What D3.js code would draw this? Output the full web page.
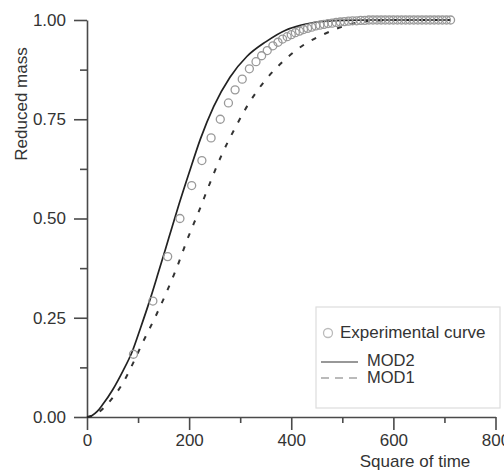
<!DOCTYPE html>
<html>
<head>
<meta charset="utf-8">
<script src="https://cdn.jsdelivr.net/npm/d3@7"></script>
<style>
    body { margin: 0; background: #fff; }
    svg { display: block; font-family: 'Liberation Sans', Arial, sans-serif; }
</style>
</head>
<body>
<script>
// experimental points (square of time, reduced mass)
const expX = [91, 129, 158, 182, 205, 225, 243, 261, 277, 290, 304, 318, 331, 342, 353, 364, 374, 383, 392,
    400, 408, 416, 424, 432, 440, 448, 456, 464, 472, 480, 488, 496, 504, 512, 520, 528, 536, 544,
    552, 560, 568, 576, 584, 592, 600, 608, 616, 624, 632, 640, 648, 656, 664, 672, 680, 688, 696, 704, 712]
const expY = [0.158, 0.292, 0.404, 0.50, 0.583, 0.646, 0.703, 0.75, 0.791, 0.824, 0.851, 0.877, 0.895, 0.910, 0.923, 0.935, 0.944, 0.952, 0.958,
    0.963, 0.968, 0.972, 0.976, 0.979, 0.982, 0.985, 0.987, 0.989, 0.991, 0.992, 0.994, 0.995, 0.996, 0.997, 0.998, 0.998, 0.999, 0.999,
    1, 1, 1, 1, 1, 1, 1, 1, 1, 1, 1, 1, 1, 1, 1, 1, 1, 1, 1, 1, 1]

// MOD2 (solid)
const mod2X = [0, 10, 20, 30, 50, 70, 88, 105, 122, 140, 160, 180, 200, 222, 248, 280, 313, 350, 390, 420, 450, 500, 550, 712]
const mod2Y = [0, 0.004, 0.014, 0.03, 0.068, 0.115, 0.163, 0.225, 0.29, 0.365, 0.45, 0.535, 0.615, 0.7, 0.782, 0.856, 0.908, 0.945, 0.975, 0.987, 0.995, 0.999, 1, 1]

// MOD1 (dashed)
const mod1X = [0, 15, 32, 50, 71, 90, 110, 133, 155, 177, 197, 220, 241, 264, 290, 316, 349, 385, 424, 467, 509, 548, 600, 712]
const mod1Y = [0, 0.005, 0.022, 0.048, 0.087, 0.135, 0.19, 0.25, 0.312, 0.38, 0.449, 0.521, 0.59, 0.661, 0.728, 0.788, 0.848, 0.897, 0.937, 0.966, 0.987, 0.997, 1, 1]

const xTicks = [0, 200, 400, 600, 800]
const xMinor = [100, 300, 500, 700]
const yTicks = [0, 0.25, 0.5, 0.75, 1]
const yMinor = [0.125, 0.375, 0.625, 0.875]
const legendLabels = ['Experimental curve', 'MOD2', 'MOD1']

const width = 504
const height = 472
const axisColor = '#4a4a4a'
const textColor = '#333'

const svg = d3.select('body')
    .append('svg')
    .attr('width', width)
    .attr('height', height)

const xScale = d3.scaleLinear().domain([0, 800]).range([87, 495.5])
const yScale = d3.scaleLinear().domain([0, 1]).range([417, 20])

const styleAxis = (g) => {
    g.selectAll('path, line').attr('stroke', axisColor).attr('stroke-width', 1.6)
    g.selectAll('text').attr('fill', textColor).style('font-size', '17px')
}

// minor ticks
svg.append('g')
    .attr('transform', `translate(0, ${yScale(0)})`)
    .call(d3.axisBottom(xScale).tickValues(xMinor).tickSize(6).tickFormat(''))
    .call(styleAxis)
    .call(g => g.select('.domain').remove())

svg.append('g')
    .attr('transform', `translate(${xScale(0)}, 0)`)
    .call(d3.axisLeft(yScale).tickValues(yMinor).tickSize(7).tickFormat(''))
    .call(styleAxis)
    .call(g => g.select('.domain').remove())

// major axes
svg.append('g')
    .attr('transform', `translate(0, ${yScale(0)})`)
    .call(d3.axisBottom(xScale).tickValues(xTicks).tickSize(13).tickSizeOuter(0).tickPadding(4))
    .call(styleAxis)

svg.append('g')
    .attr('transform', `translate(${xScale(0)}, 0)`)
    .call(d3.axisLeft(yScale).tickValues(yTicks).tickSize(13).tickSizeOuter(0).tickPadding(8).tickFormat(d3.format('.2f')))
    .call(styleAxis)

// axis titles
svg.append('text')
    .attr('x', 415)
    .attr('y', 467)
    .attr('text-anchor', 'middle')
    .attr('fill', textColor)
    .style('font-size', '17px')
    .text('Square of time')

svg.append('text')
    .attr('transform', 'translate(27, 104) rotate(-90)')
    .attr('text-anchor', 'middle')
    .attr('fill', textColor)
    .style('font-size', '17px')
    .text('Reduced mass')

// curves
const line = d3.line()
    .x(d => xScale(d[0]))
    .y(d => yScale(d[1]))
    .curve(d3.curveMonotoneX)

svg.append('path')
    .datum(d3.zip(mod1X, mod1Y))
    .attr('d', line)
    .attr('fill', 'none')
    .attr('stroke', '#333')
    .attr('stroke-width', 2)
    .attr('stroke-dasharray', '5,9')

svg.append('path')
    .datum(d3.zip(mod2X, mod2Y))
    .attr('d', line)
    .attr('fill', 'none')
    .attr('stroke', '#222')
    .attr('stroke-width', 1.7)

svg.append('g')
    .selectAll('circle')
    .data(d3.zip(expX, expY))
    .enter()
    .append('circle')
    .attr('cx', d => xScale(d[0]))
    .attr('cy', d => yScale(d[1]))
    .attr('r', 4)
    .attr('fill', 'none')
    .attr('stroke', '#999')
    .attr('stroke-width', 1.3)

// legend
const legend = svg.append('g')
legend.append('rect')
    .attr('x', 316)
    .attr('y', 307)
    .attr('width', 184)
    .attr('height', 101)
    .attr('fill', '#fff')
    .attr('stroke', '#ddd')
    .attr('stroke-width', 1.2)

legend.append('circle')
    .attr('cx', 328)
    .attr('cy', 333)
    .attr('r', 4.5)
    .attr('fill', 'none')
    .attr('stroke', '#bbb')
    .attr('stroke-width', 1.3)

legend.append('line')
    .attr('x1', 321).attr('x2', 358)
    .attr('y1', 362).attr('y2', 362)
    .attr('stroke', '#333')
    .attr('stroke-width', 1.2)

legend.append('line')
    .attr('x1', 321).attr('x2', 358)
    .attr('y1', 378).attr('y2', 378)
    .attr('stroke', '#777')
    .attr('stroke-width', 1.2)
    .attr('stroke-dasharray', '8,6')

legend.selectAll('text')
    .data(legendLabels)
    .enter()
    .append('text')
    .attr('x', (d, i) => i === 0 ? 340 : 367)
    .attr('y', (d, i) => [338, 366, 383][i])
    .attr('fill', textColor)
    .style('font-size', (d, i) => i === 0 ? '17px' : '16.5px')
    .text(d => d)
</script>
</body>
</html>
